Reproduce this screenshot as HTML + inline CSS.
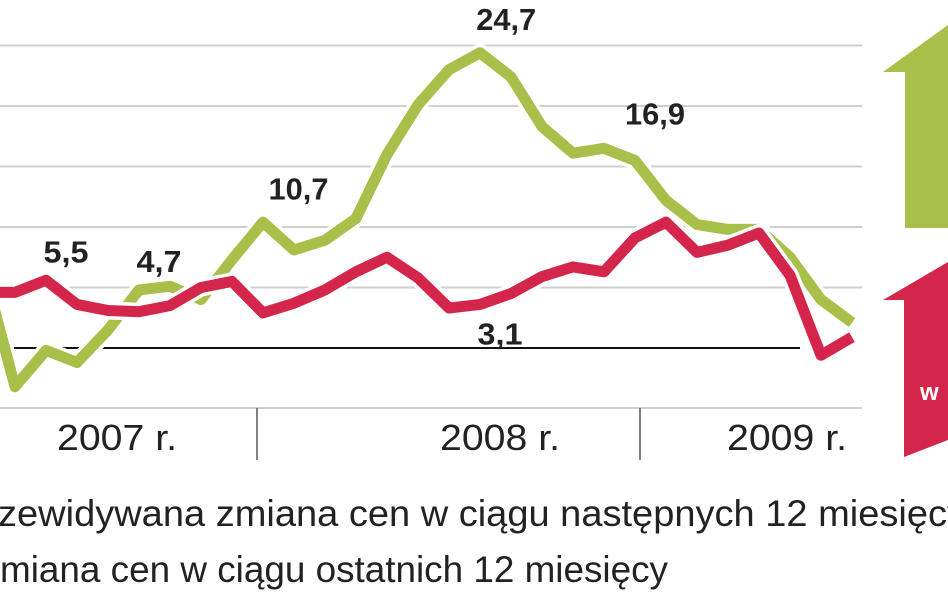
<!DOCTYPE html>
<html><head><meta charset="utf-8"><style>
html,body{margin:0;padding:0;background:#fff;width:948px;height:593px;overflow:hidden}
svg{display:block;font-family:"Liberation Sans",sans-serif}
</style></head><body>
<svg id="chart" width="948" height="593" viewBox="0 0 948 593" xmlns="http://www.w3.org/2000/svg">
<g id="grid"></g>
<g id="series"></g>
<g id="labels"></g>
<polygon points="883,72 948,25 948,228 905,228 905,72" fill="#a8c04a"/>
<polygon points="883,300 948,262 948,440 904,457 904,300" fill="#d4254a"/>
<text x="920" y="400" font-size="24" font-weight="bold" fill="#fff">w</text>
<line x1="257" y1="408" x2="257" y2="460" stroke="#555" stroke-width="1.5"/>
<line x1="640" y1="408" x2="640" y2="460" stroke="#555" stroke-width="1.5"/>
<text x="117" y="450" font-size="36" text-anchor="middle" fill="#222" textLength="120" lengthAdjust="spacingAndGlyphs">2007 r.</text>
<text x="500" y="450" font-size="36" text-anchor="middle" fill="#222" textLength="120" lengthAdjust="spacingAndGlyphs">2008 r.</text>
<text x="787" y="450" font-size="36" text-anchor="middle" fill="#222" textLength="120" lengthAdjust="spacingAndGlyphs">2009 r.</text>
<text x="-2" y="526" font-size="37" fill="#222" textLength="968" lengthAdjust="spacingAndGlyphs">zewidywana zmiana cen w ciągu następnych 12 miesięcy</text>
<text x="0" y="582" font-size="37" fill="#222" textLength="668" lengthAdjust="spacingAndGlyphs">miana cen w ciągu ostatnich 12 miesięcy</text>
</svg>
<script>
const expected = [6.4,-3.2,-0.2,-1.2,1.5,4.8,5.1,4.0,7.3,10.4,8.1,8.9,10.7,16.0,20.1,23.0,24.4,22.4,18.3,16.1,16.5,15.5,12.2,10.2,9.8,9.8,7.5,4.0,2.1];
const actual = [4.6,4.6,5.6,3.6,3.1,3.0,3.5,5.0,5.5,2.9,3.7,4.8,6.3,7.5,5.8,3.3,3.6,4.5,5.9,6.7,6.3,9.1,10.4,7.9,8.5,9.5,6.0,-0.6,0.9];
const gridValues = [0,5,10,15,20,25];
const labelTexts = ["5,5","4,7","10,7","24,7","16,9","3,1"];
const labelIndex = [2,5,9.5,16.2,21,16];
const labelValues = [5.5,4.7,10.7,24.7,16.9,3.1];
const labelBelow = [false,false,false,false,false,true];
const NS="http://www.w3.org/2000/svg";
const x=i=>-16+31*i;
const y=v=>348-12.1*v;
const grid=document.getElementById('grid');
gridValues.forEach(v=>{
  const l=document.createElementNS(NS,'line');
  
  
  l.setAttribute('x1',0);l.setAttribute('x2',v===0?800:862);
  l.setAttribute('y1',y(v));l.setAttribute('y2',y(v));
  l.setAttribute('stroke',v===0?'#111':'#cfcfcf');l.setAttribute('stroke-width',2);
  grid.appendChild(l);
});
const b=document.createElementNS(NS,'line');


b.setAttribute('x1',0);b.setAttribute('x2',862);b.setAttribute('y1',408);b.setAttribute('y2',408);b.setAttribute('stroke','#cfcfcf');b.setAttribute('stroke-width',2);
grid.appendChild(b);
const ser=document.getElementById('series');
function drawLine(arr,color,name){
  const pts=arr.map((v,i)=>x(i)+','+y(v)).join(' ');
  const halo=document.createElementNS(NS,'polyline');
  
  
  halo.setAttribute('points',pts);halo.setAttribute('fill','none');halo.setAttribute('stroke','#fff');halo.setAttribute('stroke-width',18);halo.setAttribute('stroke-linejoin','round');
  ser.appendChild(halo);
  const p=document.createElementNS(NS,'polyline');
  
  
  p.setAttribute('points',pts);p.setAttribute('fill','none');p.setAttribute('stroke',color);p.setAttribute('stroke-width',11);p.setAttribute('stroke-linejoin','round');
  ser.appendChild(p);
}
drawLine(expected,'#a8c04a','expected-line');
drawLine(actual,'#d4254a','actual-line');
const lab=document.getElementById('labels');
labelTexts.forEach((s,k)=>{
  const t=document.createElementNS(NS,'text');
  
  
  t.setAttribute('x',x(labelIndex[k])+20);
  t.setAttribute('y',labelBelow[k]?y(labelValues[k])+34:y(labelValues[k])-19);
  t.setAttribute('font-size','31');t.setAttribute('font-weight','bold');t.setAttribute('text-anchor','middle');t.setAttribute('fill','#222');
  t.setAttribute('textLength',s.length*15);t.setAttribute('lengthAdjust','spacingAndGlyphs');
  t.textContent=s;
  lab.appendChild(t);
});
</script>
</body></html>
